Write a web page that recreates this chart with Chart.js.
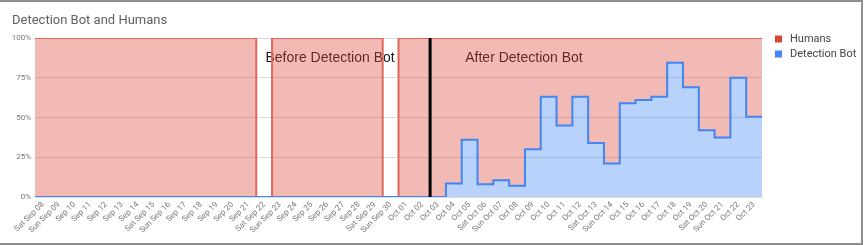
<!DOCTYPE html>
<html><head><meta charset="utf-8">
<script src="https://cdn.jsdelivr.net/npm/chart.js@4.4.1/dist/chart.umd.min.js"></script>
<style>
html,body{margin:0;padding:0;background:#fff;overflow:hidden;}
#wrap{position:relative;width:865px;height:245px;}
#c{display:block;}
#frame{position:absolute;left:0;top:0;width:861px;height:241px;border-top:2px solid #8e8e8e;border-right:2px solid #8e8e8e;border-bottom:2px solid #8e8e8e;pointer-events:none;}
</style></head><body>
<div id="wrap"><canvas id="c" width="865" height="245" style="width:865px;height:245px"></canvas><div id="frame"></div></div>
<script>
const chartTitle = 'Detection Bot and Humans';
const categories = [
  'Sat Sep 08','Sun Sep 09','Sep 10','Sep 11','Sep 12','Sep 13','Sep 14',
  'Sat Sep 15','Sun Sep 16','Sep 17','Sep 18','Sep 19','Sep 20','Sep 21',
  'Sat Sep 22','Sun Sep 23','Sep 24','Sep 25','Sep 26','Sep 27','Sep 28',
  'Sat Sep 29','Sun Sep 30','Oct 01','Oct 02','Oct 03','Oct 04','Oct 05',
  'Sat Oct 06','Sun Oct 07','Oct 08','Oct 09','Oct 10','Oct 11','Oct 12',
  'Sat Oct 13','Sun Oct 14','Oct 15','Oct 16','Oct 17','Oct 18','Oct 19',
  'Sat Oct 20','Sun Oct 21','Oct 22','Oct 23'
];
const detectionBot = [
  0,0,0,0,0,0,0, 0,0,0,0,0,0,0, 0,0,0,0,0,0,0, 0,0,0,0,0,
  8.5,36,8,10.5,7,30,63,45,63,34,21,59,61,63,84.5,69,42,37.5,75,50.5
];
const humans = [
  100,100,100,100,100,100,100, 100,100,100,100,100,100,100,
  0,100,100,100,100,100,100, 100,0,100,100,100,
  91.5,64,92,89.5,93,70,37,55,37,66,79,41,39,37,15.5,31,58,62.5,25,49.5
];
const yTicks = [0,25,50,75,100];
const seriesNames = ['Humans','Detection Bot'];
const annotationTexts = ['Before Detection Bot','After Detection Bot'];
const detectionStartCategory = 'Oct 03';

function stepPoints(vals){
  const pts = vals.map((v,i)=>({x:i,y:v}));
  pts.push({x:vals.length,y:vals[vals.length-1]});
  return pts;
}

const RED = '#db4437', BLUE = '#4285f4';

const overlay = {
  id:'overlay',
  beforeDatasetsDraw(chart){
    const {ctx, scales:{x,y}} = chart;
    ctx.save();
    ctx.font = '14px "Liberation Sans", Arial, sans-serif';
    ctx.fillStyle = '#1a1a1a';
    ctx.textAlign = 'center';
    ctx.textBaseline = 'alphabetic';
    ctx.fillText(annotationTexts[0], x.getPixelForValue(18.67), y.getPixelForValue(85));
    ctx.fillText(annotationTexts[1], x.getPixelForValue(30.94), y.getPixelForValue(85));
    ctx.restore();
  },
  afterDatasetsDraw(chart){
    const {ctx, chartArea, scales:{x}} = chart;
    const px = x.getPixelForValue(categories.indexOf(detectionStartCategory));
    ctx.save();
    ctx.strokeStyle = '#000';
    ctx.lineWidth = 3;
    ctx.beginPath();
    ctx.moveTo(px, chartArea.top);
    ctx.lineTo(px, chartArea.bottom);
    ctx.stroke();
    ctx.restore();
  },
  afterDraw(chart){
    const {ctx} = chart;
    ctx.save();
    ctx.font = '13px Roboto, "Liberation Sans", Arial, sans-serif';
    ctx.fillStyle = '#616161';
    ctx.textAlign = 'left';
    ctx.textBaseline = 'alphabetic';
    ctx.fillText(chartTitle, 12, 24);
    const cols = [RED, BLUE];
    ctx.font = '11px Roboto, "Liberation Sans", Arial, sans-serif';
    seriesNames.forEach((n,i)=>{
      const cy = 39 + i*15;
      ctx.fillStyle = cols[i];
      ctx.fillRect(775, cy-3.5, 7, 7);
      ctx.fillStyle = '#444';
      ctx.textBaseline = 'middle';
      ctx.fillText(n, 790, cy+0.5);
    });
    ctx.restore();
  }
};

new Chart(document.getElementById('c'), {
  type:'line',
  data:{
    datasets:[
      {label:seriesNames[1], data:stepPoints(detectionBot), stepped:true, borderColor:BLUE, borderWidth:2,
       backgroundColor:'rgba(66,133,244,0.37)', fill:'origin', pointRadius:0, tension:0},
      {label:seriesNames[0], data:stepPoints(humans), stepped:true, borderColor:'#e2665c', borderWidth:2,
       backgroundColor:'rgba(219,68,55,0.37)', fill:'-1', pointRadius:0, tension:0}
    ]
  },
  options:{
    responsive:false,
    animation:false,
    devicePixelRatio:1,
    layout:{padding:{top:38,left:0,right:103,bottom:0}},
    plugins:{legend:{display:false}, title:{display:false}, tooltip:{enabled:false}},
    scales:{
      x:{
        type:'linear', min:0, max:categories.length,
        grid:{display:false, drawTicks:false},
        border:{display:false},
        afterBuildTicks(s){ s.ticks = categories.map((c,i)=>({value:i+0.5})); },
        afterFit(s){ s.height = 48; },
        ticks:{
          autoSkip:false, maxRotation:45, minRotation:45, padding:3,
          font:{size:8, family:'Roboto, "Liberation Sans", Arial, sans-serif'}, color:'#777',
          callback:(v)=>categories[Math.round(v-0.5)]
        }
      },
      y:{
        stacked:true, min:0, max:100,
        grid:{color:'#dadada', lineWidth:1, drawTicks:false},
        border:{display:false},
        afterBuildTicks(s){ s.ticks = yTicks.map(v=>({value:v})); },
        afterFit(s){ s.width = 35; },
        ticks:{
          padding:4, font:{size:8, family:'Roboto, "Liberation Sans", Arial, sans-serif'}, color:'#777',
          callback:(v)=>v+'%'
        }
      }
    }
  },
  plugins:[overlay]
});
</script>
</body></html>
